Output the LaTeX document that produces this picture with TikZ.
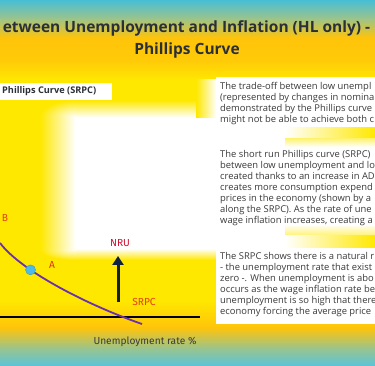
\documentclass[tikz,border=0pt]{standalone}
\usepackage{fontspec}
\setmainfont{Open Sans}
\newfontfamily\labelfont{Fira Sans}
\usetikzlibrary{arrows.meta}
\definecolor{skyteal}{HTML}{48BED5}
\definecolor{seagreen}{HTML}{9CC48A}
\definecolor{gold}{HTML}{FFC40A}
\definecolor{ylw}{HTML}{FFE800}
\definecolor{titlegray}{HTML}{2B3038}
\definecolor{txtgray}{HTML}{3A3A3A}
\definecolor{curvepurple}{HTML}{6A2FB0}
\definecolor{pointblue}{HTML}{4DBBE6}
\definecolor{labelred}{HTML}{E0301A}
\definecolor{nrured}{HTML}{D0102E}
\definecolor{arrownavy}{HTML}{0E2140}
\tikzset{
  bodytext/.style={font=\fontsize{9.4}{11.1}\selectfont, text=txtgray, align=left,
    anchor=north west, inner sep=0pt},
  graphlabel/.style={font=\labelfont\fontsize{10.2}{12}\selectfont, inner sep=0pt},
  titletext/.style={font=\bfseries\fontsize{15.5}{18}\selectfont, text=titlegray, inner sep=0pt}
}
\begin{document}
\begin{tikzpicture}[x=1pt,y=-1pt]
  \useasboundingbox (0,0) rectangle (375,366);
  \clip (0,0) rectangle (375,366);
  % background bands, top to bottom
  \shade[top color=skyteal, bottom color=seagreen] (0,0) rectangle (375,19);
  \shade[top color=seagreen, bottom color=gold] (0,18.5) rectangle (375,38);
  \shade[top color=gold, bottom color=gold!80!ylw] (0,37.5) rectangle (375,62);
  \shade[top color=gold!80!ylw, bottom color=ylw] (0,61.5) rectangle (375,80);
  \fill[ylw] (0,79.5) rectangle (375,300.5);
  \shade[top color=ylw, bottom color=gold] (0,300) rectangle (375,328);
  \shade[top color=gold, bottom color=seagreen] (0,327.5) rectangle (375,348);
  \shade[top color=seagreen, bottom color=skyteal!90!white] (0,347.5) rectangle (375,366);
  % white glow behind the graph and the text column
  \fill[white] (75,117) rectangle (380,249);
  \shade[left color=ylw, right color=white] (40,117) rectangle (75.5,249);
  \shade[top color=ylw, bottom color=white] (75,100) rectangle (220,117.5);
  \shade[top color=white, bottom color=ylw] (75,248.5) rectangle (220,260);
  \begin{scope}
    \clip (40,100) rectangle (75.5,117.5);
    \shade[inner color=white, outer color=ylw] (75,117) ellipse (35 and 17);
  \end{scope}
  \begin{scope}
    \clip (40,248.5) rectangle (75.5,260);
    \shade[inner color=white, outer color=ylw] (75,249) ellipse (35 and 11);
  \end{scope}
  \shade[left color=ylw, right color=white] (196,80) rectangle (216.5,117.5);
  % yellow glows in the gaps of the text column
  \shade[left color=white, right color=ylw] (285,127) rectangle (375,139);
  \shade[top color=ylw!55!white, bottom color=white] (285,138.5) rectangle (375,147);
  \shade[left color=white, right color=ylw] (285,234) rectangle (375,248);
  \shade[top color=white, bottom color=ylw!50!white] (285,224) rectangle (375,234.5);
  % white text boxes
  \fill[white] (216,77) rectangle (375,127);
  \fill[white] (216,147) rectangle (375,226);
  \fill[white] (216,248) rectangle (375,324);
  \fill[white] (0,83) rectangle (112,100);
  % title
  \node[titletext] (titleA) at (186.5,28) {etween Unemployment and Inflation (HL only) -};
  \node[titletext] (titleB) at (187,50) {Phillips Curve};
  \node[font=\bfseries\fontsize{9.2}{10}\selectfont, text=titlegray, anchor=west, inner sep=0pt]
    (srpcTag) at (2,91.5) {Phillips Curve (SRPC)};
  % text column
  \node[bodytext] (textA) at (220,82) {The trade-off between low unempl\\
    (represented by changes in nomina\\
    demonstrated by the Phillips curve\\
    might not be able to achieve both c};
  \node[bodytext] (textB) at (220,150) {The short run Phillips curve (SRPC)\\
    between low unemployment and lo\\
    created thanks to an increase in AD\\
    creates more consumption expend\\
    prices in the economy (shown by a\\
    along the SRPC). As the rate of une\\
    wage inflation increases, creating a};
  \node[bodytext] (textC) at (220,252) {The SRPC shows there is a natural r\\
    - the unemployment rate that exist\\
    zero -. When unemployment is abo\\
    occurs as the wage inflation rate be\\
    unemployment is so high that there\\
    economy forcing the average price};
  % axis and Phillips curve
  \coordinate (axisL) at (0,317);
  \coordinate (axisR) at (200,317);
  \draw[black, line width=1.1pt] (axisL) -- (axisR);
  \coordinate (curveTop) at (0,243);
  \coordinate (curveEnd) at (142,324);
  \draw[curvepurple, line width=1.8pt] (curveTop) .. controls (22,272) and (90,306) .. (curveEnd)
    coordinate[pos=0.3] (pointA);
  \fill[pointblue, draw=pointblue!80!black, line width=0.4pt] (pointA) circle (5);
  \node[graphlabel, text=labelred] (labA) at (52,265) {A};
  \node[graphlabel, text=labelred!80!orange] (labB) at (5,218) {B};
  % natural rate of unemployment
  \coordinate (nruBase) at (118,302);
  \coordinate (nruTip) at (118,256);
  \draw[arrownavy, line width=3pt, -{Triangle[width=11pt,length=9pt]}] (nruBase) -- (nruTip);
  \node[graphlabel, text=nrured] (labNRU) at (120,243) {NRU};
  \node[graphlabel, text=labelred!85!orange] (labSRPC) at (144,302) {SRPC};
  \node[graphlabel, text=txtgray] (labX) at (145,342) {Unemployment rate \%};
\end{tikzpicture}
\end{document}
